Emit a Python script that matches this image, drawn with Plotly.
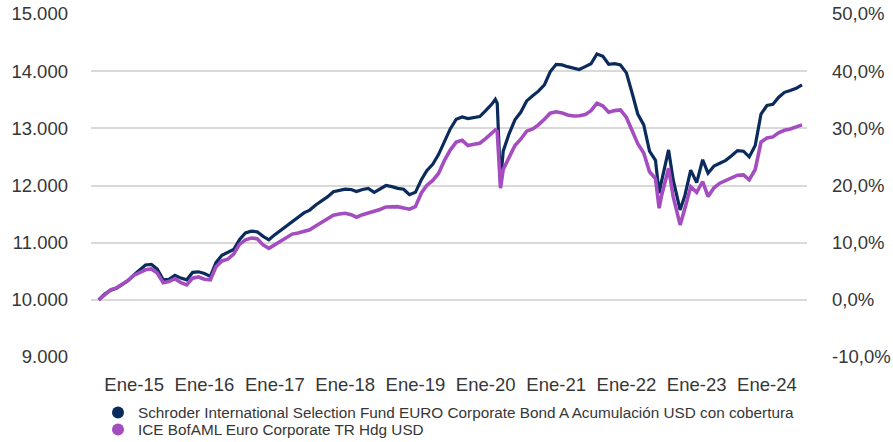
import plotly.graph_objects as go

dates = [
    "2014-07-01", "2014-08-01", "2014-09-01", "2014-10-01", "2014-11-01", "2014-12-01",
    "2015-01-01", "2015-02-01", "2015-03-01", "2015-04-01", "2015-05-01", "2015-06-01",
    "2015-07-01", "2015-08-01", "2015-09-01", "2015-10-01", "2015-11-01", "2015-12-01",
    "2016-01-01", "2016-02-01", "2016-03-01", "2016-04-01", "2016-05-01", "2016-06-01",
    "2016-07-01", "2016-08-01", "2016-09-01", "2016-10-01", "2016-11-01", "2016-12-01",
    "2017-01-01", "2017-02-01", "2017-03-01", "2017-04-01", "2017-05-01", "2017-06-01",
    "2017-07-01", "2017-08-01", "2017-09-01", "2017-10-01", "2017-11-01", "2017-12-01",
    "2018-01-01", "2018-02-01", "2018-03-01", "2018-04-01", "2018-05-01", "2018-06-01",
    "2018-07-01", "2018-08-01", "2018-09-01", "2018-10-01", "2018-11-01", "2018-12-01",
    "2019-01-01", "2019-02-01", "2019-03-01", "2019-04-01", "2019-05-01", "2019-06-01",
    "2019-07-01", "2019-08-01", "2019-09-01", "2019-10-01", "2019-11-01", "2019-12-01",
    "2020-01-01", "2020-02-01", "2020-02-20", "2020-03-01", "2020-03-18", "2020-04-01",
    "2020-05-01", "2020-06-01", "2020-07-01", "2020-08-01", "2020-09-01", "2020-10-01",
    "2020-11-01", "2020-12-01",
    "2021-01-01", "2021-02-01", "2021-03-01", "2021-04-01", "2021-05-01", "2021-06-01",
    "2021-07-01", "2021-08-01", "2021-09-01", "2021-10-01", "2021-11-01", "2021-12-01",
    "2022-01-01", "2022-02-01", "2022-03-01", "2022-04-01", "2022-05-01", "2022-06-01",
    "2022-06-20", "2022-07-01", "2022-08-01", "2022-08-08", "2022-09-01", "2022-10-01",
    "2022-10-07", "2022-11-01", "2022-12-01",
    "2023-01-01", "2023-02-01", "2023-03-01", "2023-04-01", "2023-05-01", "2023-06-01",
    "2023-07-01", "2023-08-01", "2023-09-01", "2023-10-01", "2023-11-01", "2023-12-01",
    "2024-01-01", "2024-02-01", "2024-03-01", "2024-04-01", "2024-05-01", "2024-06-01",
    "2024-07-01",
]

fund = [
    10000, 10100, 10170, 10200, 10270, 10340,
    10440, 10530, 10610, 10620, 10540, 10350,
    10360, 10430, 10380, 10350, 10480, 10490,
    10460, 10410, 10650, 10780, 10830, 10880,
    11050, 11170, 11200, 11190, 11110, 11050,
    11140, 11220, 11300, 11380, 11450, 11520,
    11570, 11660, 11730, 11800, 11890, 11910,
    11935, 11930, 11894, 11930, 11950, 11880,
    11940, 12000, 11980, 11950, 11935, 11840,
    11880, 12100, 12260, 12370, 12540, 12780,
    12990, 13160, 13200, 13170, 13190, 13205,
    13310, 13420, 13508, 13440, 12050, 12600,
    12900, 13150, 13280, 13480, 13570, 13650,
    13760, 13990,
    14120, 14110, 14079, 14050, 14030, 14080,
    14130, 14300, 14260, 14120, 14130, 14108,
    13970, 13600, 13250, 13060, 12600, 12440,
    11865, 12050, 12560, 12622, 12098, 11650,
    11573, 11830, 12270,
    12050, 12450, 12215, 12340, 12390, 12440,
    12520, 12610, 12600, 12500, 12700, 13250,
    13400, 13420, 13540, 13630, 13660, 13700,
    13760,
]

index = [
    10000, 10090, 10175, 10210, 10270, 10340,
    10430, 10480, 10525, 10540, 10470, 10300,
    10320, 10370, 10300, 10262, 10380, 10400,
    10360, 10350, 10580, 10680, 10710, 10800,
    10970, 11050, 11080, 11070, 10960, 10900,
    10960, 11020, 11090, 11150, 11170, 11200,
    11225, 11290, 11350, 11420, 11480, 11500,
    11515, 11490, 11445, 11490, 11515, 11540,
    11580, 11625, 11630, 11630, 11605, 11585,
    11630, 11870, 12000, 12090, 12210, 12440,
    12620, 12760, 12790, 12700, 12720, 12740,
    12820, 12920, 12972, 12950, 11952, 12280,
    12480, 12700, 12810, 12950, 12990, 13060,
    13160, 13264,
    13290, 13270, 13234, 13215, 13220, 13240,
    13310, 13439, 13390, 13280, 13310, 13322,
    13190, 12950, 12730, 12570, 12240, 12120,
    11603, 11800, 12260, 12302, 11806, 11380,
    11311, 11600, 11980,
    11880, 12070, 11806, 11960, 12040, 12090,
    12140, 12180, 12185, 12100, 12280, 12760,
    12830, 12850, 12920, 12965, 12990, 13030,
    13060,
]

series_names = [
    "Schroder International Selection Fund EURO Corporate Bond A Acumulación USD con cobertura",
    "ICE BofAML Euro Corporate TR Hdg USD",
]
series_colors = ["#0A2B5C", "#A34DC0"]

tick_dates = ["2015-01-01", "2016-01-01", "2017-01-01", "2018-01-01", "2019-01-01",
              "2020-01-01", "2021-01-01", "2022-01-01", "2023-01-01", "2024-01-01"]
tick_labels = ["Ene-15", "Ene-16", "Ene-17", "Ene-18", "Ene-19",
               "Ene-20", "Ene-21", "Ene-22", "Ene-23", "Ene-24"]
left_ticks = [9000, 10000, 11000, 12000, 13000, 14000, 15000]
right_ticks = [-10, 0, 10, 20, 30, 40, 50]
right_labels = ["-10,0%", "0,0%", "10,0%", "20,0%", "30,0%", "40,0%", "50,0%"]

FONT = "Liberation Sans, Arial, sans-serif"
TXT = "#363636"

fig = go.Figure()
for vals, name, col, w in [(fund, series_names[0], series_colors[0], 3.2),
                           (index, series_names[1], series_colors[1], 3.6)]:
    fig.add_trace(go.Scatter(x=dates, y=vals, mode="lines", name=name,
                             line=dict(color=col, width=w), showlegend=False))
# legend entries (circle markers), one legend box each
for k, (name, col) in enumerate(zip(series_names, series_colors)):
    fig.add_trace(go.Scatter(x=[None], y=[None], mode="markers", name=name,
                             legend="legend" if k == 0 else "legend2",
                             marker=dict(color=col, size=12, symbol="circle")))
# secondary axis carrier (percent of initial)
fig.add_trace(go.Scatter(x=dates, y=[(v / fund[0] - 1) * 100 for v in fund],
                         yaxis="y2", mode="lines", line=dict(width=0, color="rgba(0,0,0,0)"),
                         showlegend=False, hoverinfo="skip"))

leg_common = dict(orientation="v", xref="container", yref="container",
                  x=98 / 893, xanchor="left", yanchor="middle",
                  font=dict(size=15.3, color=TXT, family=FONT),
                  bgcolor="rgba(0,0,0,0)", borderwidth=0)

fig.update_layout(
    width=893, height=442,
    margin=dict(l=91, r=86, t=14, b=85, autoexpand=False),
    paper_bgcolor="white", plot_bgcolor="white",
    separators=",.",
    font=dict(family=FONT, color=TXT, size=18),
    xaxis=dict(type="date", range=["2014-05-22", "2024-07-27"], automargin=False,
               tickmode="array", tickvals=tick_dates, ticktext=tick_labels,
               showgrid=False, zeroline=False, showline=False, ticks="",
               tickfont=dict(size=18.5, color=TXT), ticklabelstandoff=14),
    yaxis=dict(range=[9000, 15000], tickmode="array", tickvals=left_ticks, automargin=False,
               tickformat=",d", showgrid=True, gridcolor="#d9d9d9", gridwidth=1.5,
               zeroline=False, showline=False, ticks="",
               tickfont=dict(size=18.5, color=TXT), ticklabelstandoff=22),
    yaxis2=dict(range=[-10, 50], overlaying="y", side="right", tickmode="array", automargin=False,
                tickvals=right_ticks, ticktext=right_labels,
                showgrid=False, zeroline=False, showline=False, ticks="",
                tickfont=dict(size=18.5, color=TXT), ticklabelstandoff=24),
    legend=dict(y=1 - 412.5 / 442, **leg_common),
    legend2=dict(y=1 - 429.5 / 442, **leg_common),
)

fig.write_html("out.html", config={"displayModeBar": False},
               post_script="document.body.style.margin='0';document.body.style.overflow='hidden';")
